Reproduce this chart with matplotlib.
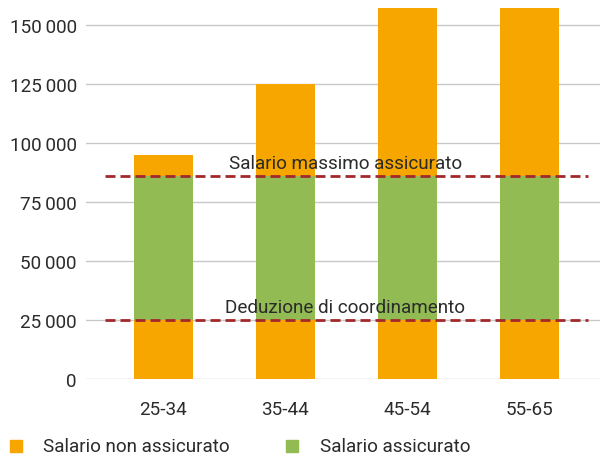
import matplotlib
matplotlib.use("Agg")
import matplotlib.pyplot as plt
from matplotlib.patches import Rectangle
from matplotlib.ticker import FuncFormatter

plt.rcParams['font.family'] = ['Roboto', 'DejaVu Sans']

categories = ["25-34", "35-44", "45-54", "55-65"]
total_salary = [95000, 125000, 157000, 157000]
coord_deduction = 25095
max_insured = 86040
legend_labels = ["Salario non assicurato", "Salario assicurato"]

orange = "#F7A600"
green = "#92BC53"
red = "#A3282C"
txt = "#2B2B2B"
FS = 13.6

W, H = 601, 456
fig = plt.figure(figsize=(W/100, H/100), dpi=100)
ax = fig.add_axes([86/W, 1 - 380/H, (600-86)/W, (380-9)/H])

x = list(range(len(categories)))
w = 0.484
low = [min(t, coord_deduction) for t in total_salary]
mid = [max(0, min(t, max_insured) - coord_deduction) for t in total_salary]
high = [max(0, t - max_insured) for t in total_salary]
ax.bar(x, low, w, color=orange, zorder=2)
ax.bar(x, mid, w, bottom=low, color=green, zorder=2)
ax.bar(x, high, w, bottom=[l + m for l, m in zip(low, mid)], color=orange, zorder=2)

ax.hlines([max_insured, coord_deduction], -0.48, 3.48, colors=red, linestyles=(0, (3.6, 1.8)), linewidth=2, zorder=3)
ax.text(1.49, max_insured + 3400, "Salario massimo assicurato", ha="center", va="baseline", fontsize=FS, color=txt)
ax.text(1.49, coord_deduction + 3400, "Deduzione di coordinamento", ha="center", va="baseline", fontsize=FS, color=txt)

ax.set_xlim((86-163.5)/122, (600-163.5)/122)
ax.set_ylim(0, 157000)
ax.set_yticks([0, 25000, 50000, 75000, 100000, 125000, 150000])
ax.yaxis.set_major_formatter(FuncFormatter(lambda v, p: f"{int(v):,}".replace(",", "\u2009")))
ax.set_xticks(x)
ax.set_xticklabels(categories)
ax.tick_params(length=0, labelsize=FS, labelcolor=txt)
ax.tick_params(axis='x', pad=15)
ax.tick_params(axis='y', pad=6.5)
for s in ax.spines.values():
    s.set_visible(False)
ax.grid(axis='y', color="#C8C8C8", linewidth=1, zorder=0)
ax.set_axisbelow(True)

# legend drawn manually in pixel positions
for (sx, tx), lab, col in zip([(10, 43), (286, 320)], legend_labels, [orange, green]):
    fig.add_artist(Rectangle((sx/W, 1 - 453/H), 12/W, 12/H, transform=fig.transFigure, color=col))
    fig.text(tx/W, 1 - 447/H, lab, ha="left", va="center", fontsize=FS, color=txt)

fig.savefig("out.png", dpi=100)
